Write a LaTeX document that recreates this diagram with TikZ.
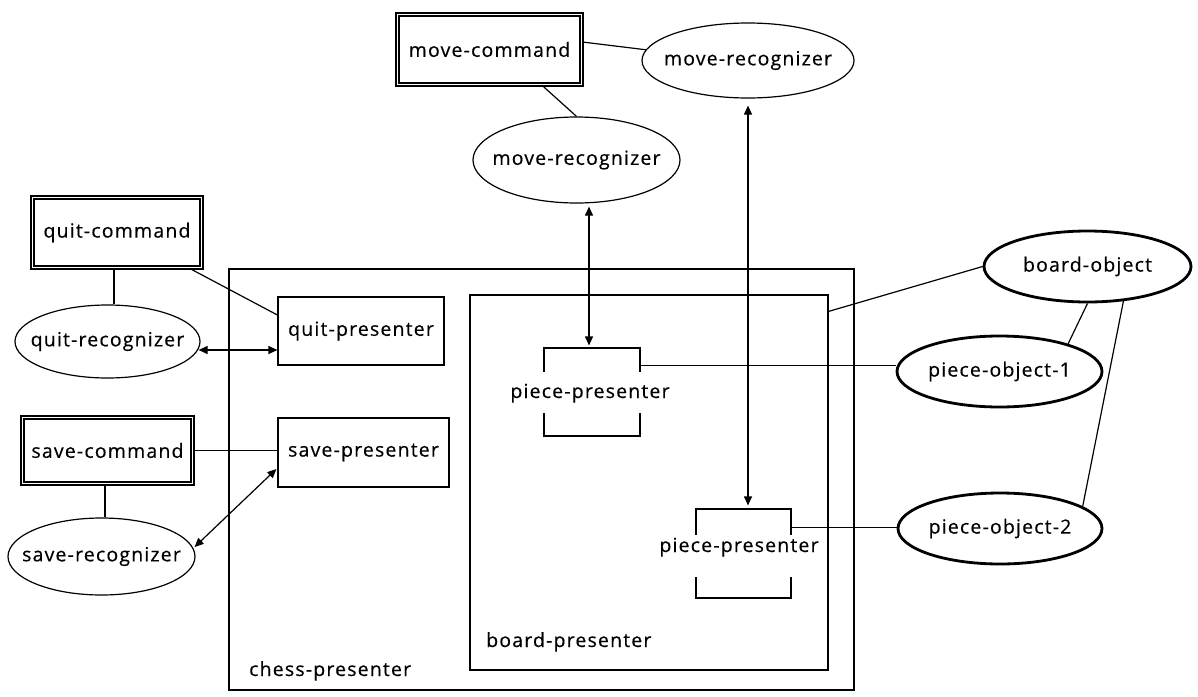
\documentclass[tikz,border=0pt]{standalone}
\usepackage{fontspec}
\setmainfont{Open Sans}[LetterSpace=6, FakeBold=0.4]
\usetikzlibrary{shapes.geometric,arrows.meta,calc}
\begin{document}
\begin{tikzpicture}[x=1pt,y=-1pt,
  every node/.style={font=\fontsize{19.5}{22}\selectfont, inner sep=0pt},
  line/.style={line width=1.2pt},
  cmd/.style={draw, line width=1.6pt, double, double distance=1.8pt, rectangle},
  recog/.style={draw, ellipse, line width=1.2pt},
  obj/.style={draw, ellipse, line width=2.8pt},
  pres/.style={draw, rectangle, line width=1.2pt},
  gaplabel/.style={fill=white, inner xsep=0pt, inner ysep=0pt},
  >={Triangle[length=9pt,width=8pt]}
]
\fill[white] (0,0) rectangle (1198,696);
\useasboundingbox (0,0) rectangle (1198,696);

% containers
\node[pres, minimum width=625pt, minimum height=421pt] (cp) at (541.5,479.5) {};
\node[pres, minimum width=358pt, minimum height=375pt] (bp) at (649,482.5) {};
\node[anchor=base west] (cpt) at (249,676) {chess-presenter};
\node[anchor=base west] (bpt) at (486,647) {board-presenter};

% commands
\node[cmd, minimum width=184pt, minimum height=70pt] (mc) at (489.5,49.5) {move-command};
\node[cmd, minimum width=169pt, minimum height=70pt] (qc) at (117,232.5) {quit-command};
\node[cmd, minimum width=170pt, minimum height=66pt] (sc) at (107.5,450.5) {save-command};

% recognizers
\node[recog, minimum width=212pt, minimum height=75pt, label=center:move-recognizer] (mr1) at (748,60.5) {};
\node[recog, minimum width=207pt, minimum height=86pt, label=center:move-recognizer] (mr2) at (576.5,160) {};
\node[recog, minimum width=185pt, minimum height=73pt, label=center:quit-recognizer] (qr) at (107.5,341.5) {};
\node[recog, minimum width=187pt, minimum height=77pt, label=center:save-recognizer] (sr) at (101.5,556.5) {};

% objects
\node[obj, minimum width=207pt, minimum height=71pt, label=center:board-object] (bo) at (1087.5,266.5) {};
\node[obj, minimum width=205pt, minimum height=71pt, label=center:piece-object-1] (po1) at (999.5,371.5) {};
\node[obj, minimum width=204pt, minimum height=71pt, label=center:piece-object-2] (po2) at (1000,528.5) {};

% presenters
\node[pres, minimum width=166pt, minimum height=68pt] (qp) at (361,331) {quit-presenter};
\node[pres, minimum width=171pt, minimum height=69pt] (sp) at (363.5,452.5) {save-presenter};
\node[pres, minimum width=96pt, minimum height=88pt] (pp1) at (592,392) {};
\node[gaplabel, anchor=base, text height=26pt, text depth=15pt] (pp1t) at (590,398) {piece-presenter};
\node[pres, minimum width=95pt, minimum height=89pt] (pp2) at (743.5,553.5) {};
\node[gaplabel, anchor=base, text height=17pt, text depth=25pt] (pp2t) at (739,552) {piece-presenter};

% move connectors
\draw[line] ($(mc.east)+(0,-7.5)$) -- (mr1.174);
\draw[line] ($(mc.south)+(52.5,0)$) -- (mr2.north);
\draw[line,<->] ($(mr2.south)+(12.5,3)$) -- ($(pp1.north)+(-3,-2)$);
\draw[line,<->] ($(mr1.south)+(0,7)$) -- ($(pp2.north)+(4.5,-3)$);

% quit connectors
\draw[line] ($(qc.south)+(-3,0)$) -- ($(qr.north)+(6.5,0)$);
\draw[line] ($(qc.south east)+(-11,1)$) -- ($(qp.west)+(0,-16)$);
\draw[line,<->] ($(qr.east)+(-2,8.5)$) -- ($(qp.west)+(0,19)$);

% save connectors
\draw[line] (sc.east) -- (sc.east -| sp.west);
\draw[line] ($(sc.south)+(-2.5,0)$) -- ($(sr.north)+(3.5,0)$);
\draw[line,<->] ($(sr.east)+(-1,-9.5)$) -- ($(sp.west)+(-1,16.5)$);

% object connectors
\draw[line] ($(bp.north east)+(0,17)$) -- (bo.west);
\draw[line] (bo.south) -- (po1.22);
\draw[line] (bo.-44) -- (po2.15);
\coordinate (a) at ($(pp1.north east)+(0,18)$);
\draw[line] (a) -- (a -| po1.west);
\coordinate (b) at ($(pp2.north east)+(0,19)$);
\draw[line] (b) -- (b -| po2.west);
\end{tikzpicture}
\end{document}
